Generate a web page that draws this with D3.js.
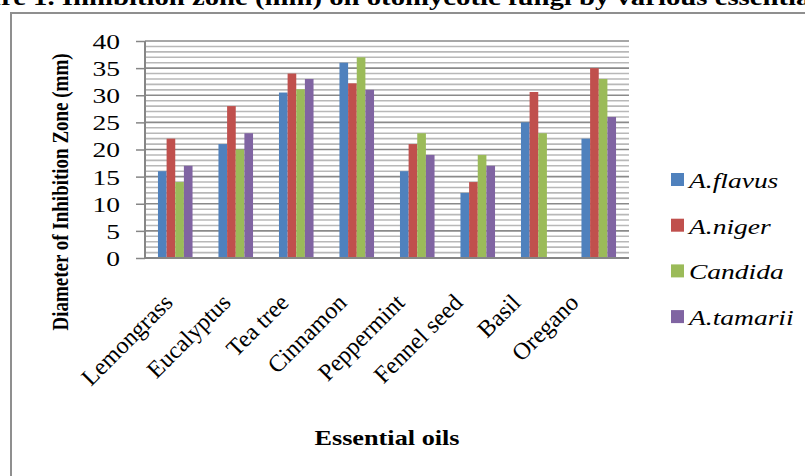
<!DOCTYPE html>
<html><head><meta charset="utf-8">
<script src="https://cdn.jsdelivr.net/npm/d3@7"></script>
<style>body{margin:0;background:#fff;}svg{display:block;}</style>
</head><body>
<svg id="c" width="805" height="476"></svg>
<script>
const categories = ["Lemongrass","Eucalyptus","Tea tree","Cinnamon","Peppermint","Fennel seed","Basil","Oregano"];
const seriesNames = ["A.flavus","A.niger","Candida","A.tamarii"];
const aFlavus  = [16, 21, 30.5, 36, 16, 12, 25, 22];
const aNiger   = [22, 28, 34, 32.2, 21, 14, 30.6, 35];
const candida  = [14, 20, 31.1, 37, 23, 19, 23, 33];
const aTamarii = [17, 23, 33, 31, 19, 17, 0, 26];
const yTicks = [0,5,10,15,20,25,30,35,40];
const colors = ["#4F81BD","#C0504D","#9BBB59","#8064A2"];
const titleText = "Figure 1. Inhibition zone (mm) on otomycotic fungi by various essential oils";

const values = [aFlavus, aNiger, candida, aTamarii];
const svg = d3.select("#c");
const font = "'Liberation Serif','Times New Roman',serif";
const SX = 1.25; // horizontal stretch of the reference image

// frame
svg.append("rect").attr("x",11).attr("y",13).attr("width",820).attr("height",500)
  .attr("fill","none").attr("stroke","#8f8f8f").attr("stroke-width",2);

// title (cropped)
const t = svg.append("text").attr("font-family",font).attr("font-weight","bold").attr("font-size",23).text("Figu");
const wFig = t.node().getComputedTextLength();
t.text(titleText).attr("transform",`translate(${1 - wFig*SX},5) scale(${SX},1)`);

const L=145, R=629, T=41, B=258;
const x = d3.scaleBand().domain(categories).range([L,R]).paddingInner(3/7).paddingOuter(1.5/7);
const xs = d3.scaleBand().domain(seriesNames).range([0,x.bandwidth()]);
const y = d3.scaleLinear().domain([0,40]).range([B,T]);
const labelX = d3.scalePoint().domain(categories).range([174,580]);

// grid
const g = svg.append("g");
g.selectAll("line.minor").data(d3.range(1,40).filter(v=>v%5)).join("line")
  .attr("x1",L).attr("x2",R).attr("y1",d=>y(d)).attr("y2",d=>y(d))
  .attr("stroke","#b8b8b8").attr("stroke-width",1.6);
g.selectAll("line.major").data(yTicks.slice(1)).join("line")
  .attr("x1",L).attr("x2",R).attr("y1",d=>y(d)).attr("y2",d=>y(d))
  .attr("stroke","#8a8a8a").attr("stroke-width",1.6);

// bars
categories.forEach((c,i)=>{
  seriesNames.forEach((s,j)=>{
    svg.append("rect").attr("x",x(c)+xs(s)).attr("width",xs.bandwidth())
      .attr("y",y(values[j][i])).attr("height",B-y(values[j][i])).attr("fill",colors[j]);
  });
});

// y axis
const yAxis = d3.axisLeft(y).tickValues(yTicks).tickSize(9).tickPadding(16);
const ya = svg.append("g").attr("transform",`translate(${L},0)`).call(yAxis);
ya.select(".domain").attr("stroke","#868686").attr("stroke-width",2).attr("d",`M0,${T}V${B}`);
ya.selectAll(".tick line").attr("stroke","#868686").attr("stroke-width",1.5);
ya.selectAll(".tick text").attr("font-family",font).attr("font-size",22).attr("fill","#000")
  .attr("x",0).attr("dy","0.34em").attr("transform",`translate(-25,0) scale(${SX},1)`);

// x axis
svg.append("line").attr("x1",L).attr("x2",R).attr("y1",B).attr("y2",B).attr("stroke","#868686").attr("stroke-width",2);
const xg = svg.append("g");
xg.selectAll("text").data(categories).join("text")
  .attr("font-family",font).attr("font-size",24).attr("fill","#000").attr("text-anchor","end")
  .attr("transform",d=>`translate(${labelX(d)},${B+46}) rotate(-45)`)
  .text(d=>d);

// axis titles
svg.append("text").attr("font-family",font).attr("font-weight","bold").attr("font-size",19)
  .attr("text-anchor","middle").attr("transform",`translate(68,192) scale(${SX},1) rotate(-90)`)
  .text("Diameter of Inhibition  Zone (mm)");
svg.append("text").attr("font-family",font).attr("font-weight","bold").attr("font-size",21)
  .attr("text-anchor","middle").attr("transform",`translate(387,445) scale(${SX},1)`).text("Essential oils");

// legend
const lg = svg.append("g");
seriesNames.forEach((s,j)=>{
  const yy = 173 + j*45.7;
  lg.append("rect").attr("x",671).attr("y",yy).attr("width",13).attr("height",13).attr("fill",colors[j]);
  lg.append("text").attr("transform",`translate(689,${yy+15}) scale(${SX},1)`).attr("font-family",font).attr("font-style","italic")
    .attr("font-size",22).text(s);
});
</script>
</body></html>
